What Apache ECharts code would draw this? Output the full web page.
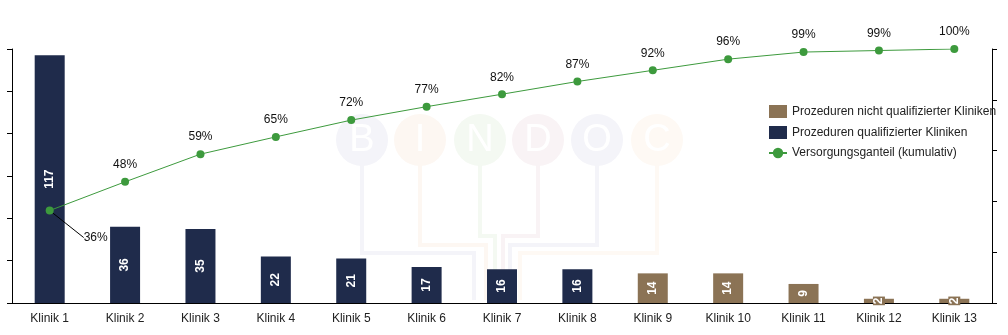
<!DOCTYPE html>
<html><head><meta charset="utf-8">
<script src="https://cdn.jsdelivr.net/npm/echarts@6/dist/echarts.min.js"></script>
<style>html,body{margin:0;padding:0;background:#fff}#c{width:1008px;height:335px}</style>
</head><body><div id="c"></div>
<script>
const categories = ['Klinik 1','Klinik 2','Klinik 3','Klinik 4','Klinik 5','Klinik 6','Klinik 7','Klinik 8','Klinik 9','Klinik 10','Klinik 11','Klinik 12','Klinik 13'];
const qualified = [117,36,35,22,21,17,16,16,null,null,null,null,null];
const notQualified = [null,null,null,null,null,null,null,null,14,14,9,2,2];
const cumulative = [36.4,47.7,58.6,65.4,72.0,77.3,82.2,87.2,91.6,96.0,98.8,99.4,100];
const seriesNames = ['Prozeduren nicht qualifizierter Kliniken','Prozeduren qualifizierter Kliniken','Versorgungsganteil (kumulativ)'];

const NAVY = '#1f2b4b', BROWN = '#8b7355', GREEN = '#3d9a3d';
const chart = echarts.init(document.getElementById('c'), null, {renderer:'canvas'});
const font = 'Liberation Sans, Arial, sans-serif';

// faint watermark
const wmColors = ['#f4f4f9','#fdf7f2','#f4f9f2','#f9f3f5','#f4f4f9','#fef9f4'];
const wmLetters = ['B','I','N','D','O','C'];
const wmX = [362,420,480,538,597,657];
const graphics = [];
const busX = [474,486,495,503,510,520];
const busY = [253,245,236,236,245,253];
wmLetters.forEach((l,i)=>{
  graphics.push({type:'polyline', silent:true, z:-1, shape:{points:[[wmX[i],160],[wmX[i],busY[i]],[busX[i],busY[i]],[busX[i],300]]}, style:{stroke:wmColors[i], lineWidth:4, fill:null}});
});
wmLetters.forEach((l,i)=>{
  graphics.push({type:'circle', silent:true, z:-1, shape:{cx:wmX[i], cy:140, r:26}, style:{fill:wmColors[i]}});
  graphics.push({type:'text', silent:true, z:-1, x:wmX[i], y:141, style:{text:l, fill:'#ffffff', font:'38px '+font, align:'center', verticalAlign:'middle'}});
});

chart.setOption({
  animation:false,
  textStyle:{fontFamily:font},
  graphic: graphics,
  grid:{left:12, right:16, top:49, bottom:32},
  legend:{
    orient:'vertical', left:763, top:100, itemGap:8, itemWidth:18, itemHeight:13,
    textStyle:{fontSize:12, color:'#222', fontFamily:font},
    data:[{name:seriesNames[0], icon:'rect'},{name:seriesNames[1], icon:'rect'},{name:seriesNames[2]}]
  },
  xAxis:{type:'category', data:categories,
    axisLine:{lineStyle:{color:'#000'}}, axisTick:{show:false},
    axisLabel:{color:'#222', fontSize:12, margin:10, fontFamily:font}},
  yAxis:[
    {type:'value', min:0, max:120, interval:20, axisLine:{show:true, lineStyle:{color:'#000'}},
      axisTick:{show:true, length:5, lineStyle:{color:'#000'}}, axisLabel:{show:false}, splitLine:{show:false}},
    {type:'value', min:0, max:100, interval:20, position:'right', axisLine:{show:true, lineStyle:{color:'#000'}},
      axisTick:{show:true, length:5, lineStyle:{color:'#000'}}, axisLabel:{show:false}, splitLine:{show:false}}
  ],
  series:[
    {name:seriesNames[0], type:'bar', stack:'a', data:notQualified, barWidth:30, itemStyle:{color:BROWN},
      label:{show:true, position:'inside', rotate:90, color:'#fff', fontSize:12, fontWeight:'bold', backgroundColor:BROWN, padding:[0,1]}},
    {name:seriesNames[1], type:'bar', stack:'a', data:qualified, barWidth:30, itemStyle:{color:NAVY},
      label:{show:true, position:'inside', rotate:90, color:'#fff', fontSize:12, fontWeight:'bold'}},
    {name:seriesNames[2], type:'line', yAxisIndex:1, z:5,
      data: cumulative.map((v,i)=> i===0 ? {value:v, labelLine:{show:true}} : v),
      symbol:'circle', symbolSize:8, itemStyle:{color:GREEN}, lineStyle:{color:GREEN, width:1},
      label:{show:true, position:'top', distance:7, color:'#111', fontSize:12, formatter:p=>Math.round(p.value)+'%'},
      labelLine:{show:false, lineStyle:{color:'#000', width:1}},
      labelLayout:function(p){ if(p.dataIndex===0){ return {dx:46, dy:44}; } return {}; }
    }
  ]
});
</script></body></html>
